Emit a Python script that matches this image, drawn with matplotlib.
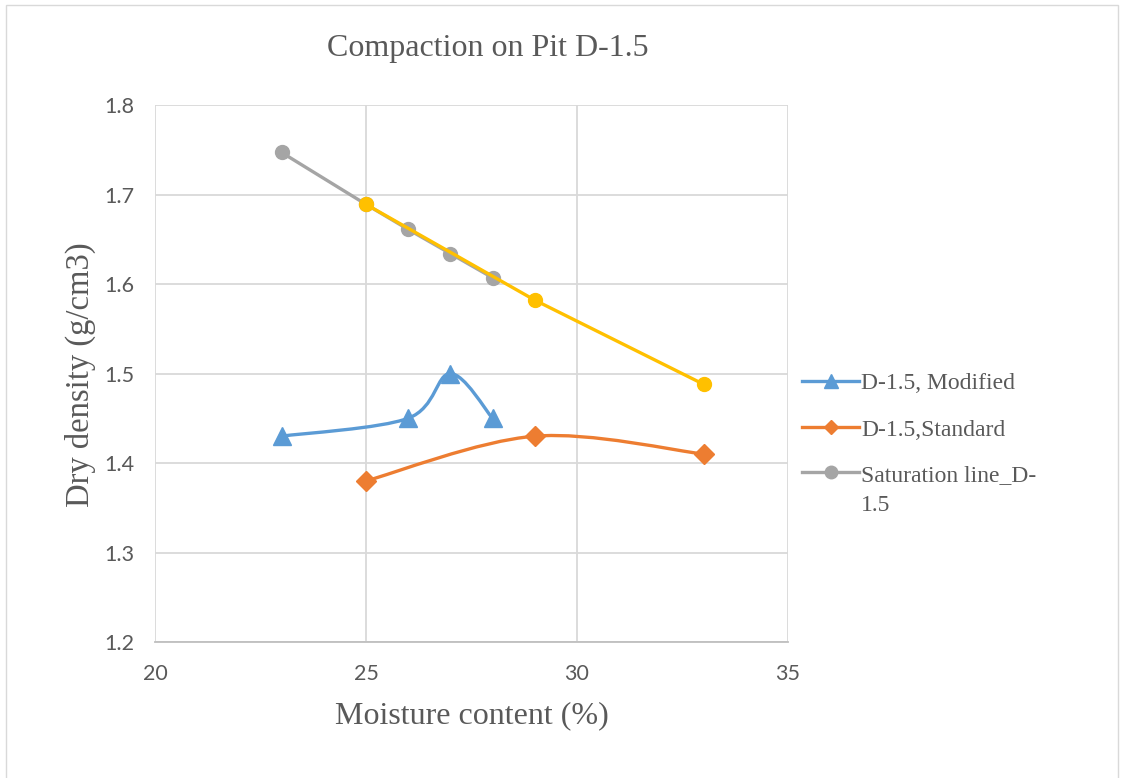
import numpy as np
import matplotlib
matplotlib.use('Agg')
import matplotlib.pyplot as plt
from matplotlib.path import Path
from matplotlib.patches import PathPatch, Rectangle
from matplotlib.lines import Line2D
from matplotlib.legend_handler import HandlerLine2D

# moisture content (%) and dry density (g/cm3)
mod_w = [23, 26, 27, 28]
mod_rho = [1.43, 1.45, 1.50, 1.45]

std_w = [25, 29, 33]
std_rho = [1.38, 1.43, 1.41]

sat_w = [23, 25, 26, 27, 28]
sat_rho = [1.747, 1.689, 1.661, 1.634, 1.607]

zav_w = [25, 29, 33]
zav_rho = [1.689, 1.582, 1.488]

c_mod = '#5B9BD5'
c_std = '#ED7D31'
c_sat = '#A5A5A5'
c_zav = '#FFC000'
txt = '#595959'


def smooth_path(x, y):
    # bezier spline through the points, like a spreadsheet "smoothed line"
    p = np.column_stack([x, y]).astype(float)
    n = len(p)
    verts = [p[0]]
    codes = [Path.MOVETO]
    for i in range(n - 1):
        prev = p[i - 1] if i > 0 else p[i]
        nxt = p[i + 2] if i + 2 < n else p[i + 1]
        c1 = p[i] + (p[i + 1] - prev) / 6
        c2 = p[i + 1] - (nxt - p[i]) / 6
        verts += [c1, c2, p[i + 1]]
        codes += [Path.CURVE4] * 3
    return Path(verts, codes)


class TopLineHandler(HandlerLine2D):
    # keeps the handle level with the first line of a wrapped label
    def create_artists(self, legend, orig_handle, xdescent, ydescent,
                       width, height, fontsize, trans):
        arts = super().create_artists(legend, orig_handle, xdescent, ydescent,
                                      width, height, fontsize, trans)
        for a in arts:
            a.set_ydata(np.asarray(a.get_ydata()) + 0.78 * fontsize)
        return arts


fig = plt.figure(figsize=(11.25, 7.78), dpi=100)
fig.patches.append(Rectangle((0.005, -0.01), 0.989, 1.004, transform=fig.transFigure,
                             fill=False, edgecolor='#d9d9d9', linewidth=1))
ax = fig.add_axes([0.1378, 0.1748, 0.5626, 0.6902])

lw = 2.4
ax.plot(sat_w, sat_rho, color=c_sat, lw=lw, marker='o', ms=10, zorder=3)
ax.plot(zav_w, zav_rho, color=c_zav, lw=lw, marker='o', ms=10, zorder=4)

ax.add_patch(PathPatch(smooth_path(mod_w, mod_rho), fill=False, edgecolor=c_mod, lw=lw, zorder=3))
ax.plot(mod_w, mod_rho, ls='none', marker='^', ms=13, color=c_mod, zorder=4)

ax.add_patch(PathPatch(smooth_path(std_w, std_rho), fill=False, edgecolor=c_std, lw=lw, zorder=3))
ax.plot(std_w, std_rho, ls='none', marker='D', ms=10, color=c_std, zorder=4)

ax.set_xlim(20, 35)
ax.set_ylim(1.2, 1.8)
ax.set_xticks([20, 25, 30, 35])
ax.set_yticks(np.arange(1.2, 1.81, 0.1))
ax.set_yticklabels(['%.1f' % v for v in np.arange(1.2, 1.81, 0.1)])
ax.grid(True, color='#d9d9d9', lw=1.3)
ax.set_axisbelow(True)
for s in ['top', 'right', 'left']:
    ax.spines[s].set_visible(False)
ax.spines['bottom'].set_color('#bfbfbf')
ax.spines['bottom'].set_linewidth(1.3)
ax.tick_params(length=0, labelsize=15.5, labelcolor=txt)
ax.tick_params(axis='x', pad=16)
ax.tick_params(axis='y', pad=15)
for lab in ax.get_xticklabels() + ax.get_yticklabels():
    lab.set_family('Lato')

serif = 'Liberation Serif'
fig.text(0.434, 0.938, 'Compaction on Pit D-1.5', ha='center', va='center',
         family=serif, fontsize=23, color=txt)
fig.text(0.4191, 0.0797, 'Moisture content (%)', ha='center', va='center',
         family=serif, fontsize=23, color=txt)
fig.text(0.0711, 0.518, 'Dry density (g/cm3)', ha='center', va='center', rotation=90,
         family=serif, fontsize=23.5, color=txt)

sat_handle = Line2D([], [], color=c_sat, lw=lw, marker='o', ms=9)
handles = [
    Line2D([], [], color=c_mod, lw=lw, marker='^', ms=10),
    Line2D([], [], color=c_std, lw=lw, marker='D', ms=7),
    sat_handle,
]
labels = ['D-1.5, Modified', 'D-1.5,Standard', 'Saturation line_D-\n1.5']
leg = fig.legend(handles, labels, loc='upper left', bbox_to_anchor=(0.709, 0.527),
                 frameon=False, prop={'family': serif, 'size': 17},
                 handlelength=2.4, handletextpad=0.1, labelspacing=1.05,
                 borderpad=0.2, borderaxespad=0,
                 handler_map={sat_handle: TopLineHandler()})
for t in leg.get_texts():
    t.set_color(txt)
    t.set_linespacing(1.55)

fig.savefig('out.png', dpi=100)
